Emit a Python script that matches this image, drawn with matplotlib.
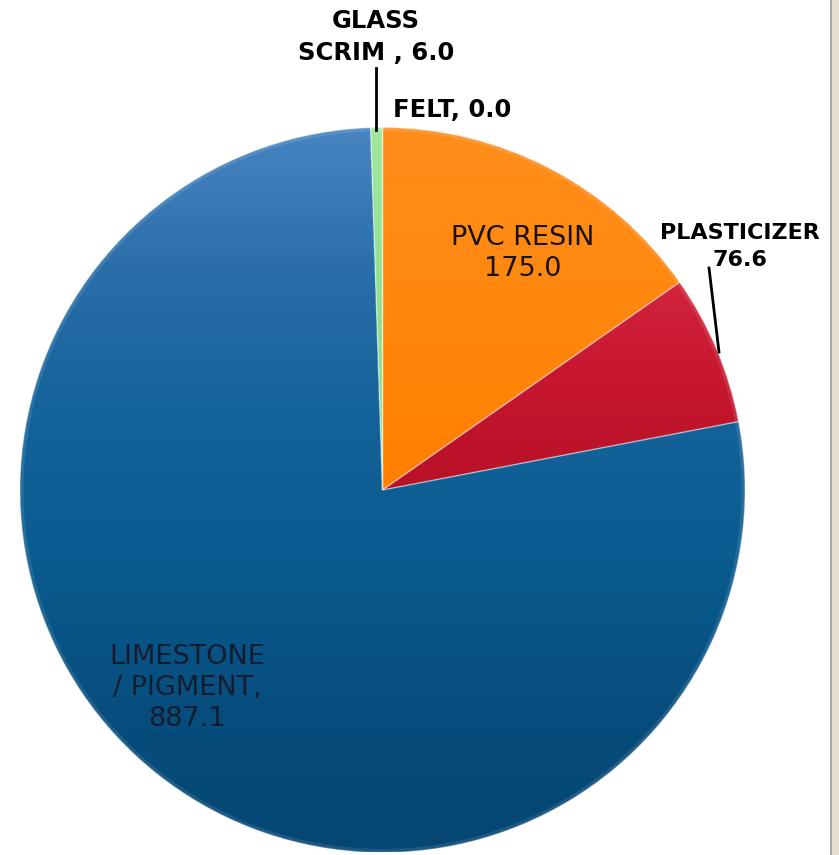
import numpy as np
import matplotlib
matplotlib.use("Agg")
import matplotlib.pyplot as plt
import matplotlib.patches as patches
from matplotlib.colors import LinearSegmentedColormap

# Bestandteile (Reihenfolge im Uhrzeigersinn ab 12 Uhr)
labels = ["FELT", "PVC RESIN", "PLASTICIZER", "LIMESTONE\n/ PIGMENT", "GLASS\nSCRIM"]
values = [0.0, 175.0, 76.6, 887.1, 6.0]
# Farbverlauf je Segment, von oben nach unten
shades = [
    ["#9a9a9a", "#808080"],
    ["#ff8e1c", "#ff8000", "#ff7a00"],
    ["#e03a55", "#c81830", "#a60a1f", "#9a081c"],
    ["#4885c2", "#2a6ea8", "#14629a", "#0a5b8f", "#074e7e", "#054673"],
    ["#9ee89e", "#6cc86c"],
]

W, H = 839, 855
fig = plt.figure(figsize=(W / 100, H / 100), dpi=100)
ax = fig.add_axes([0, 0, 1, 1])

def py(y):
    # Pixel-y (von oben) -> Daten-y
    return H - y

cx, cy, r = 382.5, py(490), 362.5
wedges, _ = ax.pie(values, center=(cx, cy), radius=r, startangle=90,
                   counterclock=False, frame=True)

grad = np.linspace(0, 1, 256).reshape(-1, 1)
for w, cols in zip(wedges, shades):
    cmap = LinearSegmentedColormap.from_list("g", cols)
    im = ax.imshow(grad, extent=(cx - r, cx + r, cy - r, cy + r), cmap=cmap,
                   aspect="auto", zorder=2, interpolation="bilinear")
    im.set_clip_path(w)
    w.set_facecolor("none")
    w.set_edgecolor((1, 1, 1, 0.3))
    w.set_linewidth(1.0)
    w.set_zorder(3)

# heller Rand
rim = patches.Circle((cx, cy), r - 1.5, facecolor="none",
                     edgecolor=(1, 1, 1, 0.1), lw=3, zorder=3)
ax.add_patch(rim)
rim.set_clip_path(patches.Circle((cx, cy), r, transform=ax.transData))

ax.set_xlim(0, W)
ax.set_ylim(0, H)
ax.axis("off")

# Beschriftungen
ax.text(376, py(37), f"{labels[4]} , {values[4]:.1f}", ha="center", va="center",
        fontsize=17.5, fontweight="bold", color="black", linespacing=1.45, zorder=5)
ax.plot([376, 376], [py(68), py(130)], color="black", lw=2, zorder=5)

ax.text(393, py(110), f"{labels[0]}, {values[0]:.1f}", ha="left", va="center",
        fontsize=17.5, fontweight="bold", color="black", zorder=5)

ax.text(740, py(246.5), f"{labels[2]}\n{values[2]:.1f}", ha="center", va="center",
        fontsize=16, fontweight="bold", color="black", linespacing=1.45, zorder=5)
ax.plot([709, 719], [py(268), py(352)], color="black", lw=2, zorder=5)

ax.text(523, py(253.5), f"{labels[1]}\n{values[1]:.1f}", ha="center", va="center",
        fontsize=19.5, color="#1a1208", linespacing=1.25, zorder=5)

ax.text(187, py(688), f"{labels[3]},\n{values[3]:.1f}", ha="center", va="center",
        fontsize=19.5, color="#141c30", linespacing=1.25, zorder=5)

# Fensterrand rechts
ax.add_patch(patches.Rectangle((830, 0), W - 830, H, facecolor="#e4ddd1",
                               edgecolor="none", zorder=6))
ax.plot([830.5, 830.5], [0, H], color="#9c9c9c", lw=1.2, zorder=7)

fig.savefig("out.png", dpi=100)
